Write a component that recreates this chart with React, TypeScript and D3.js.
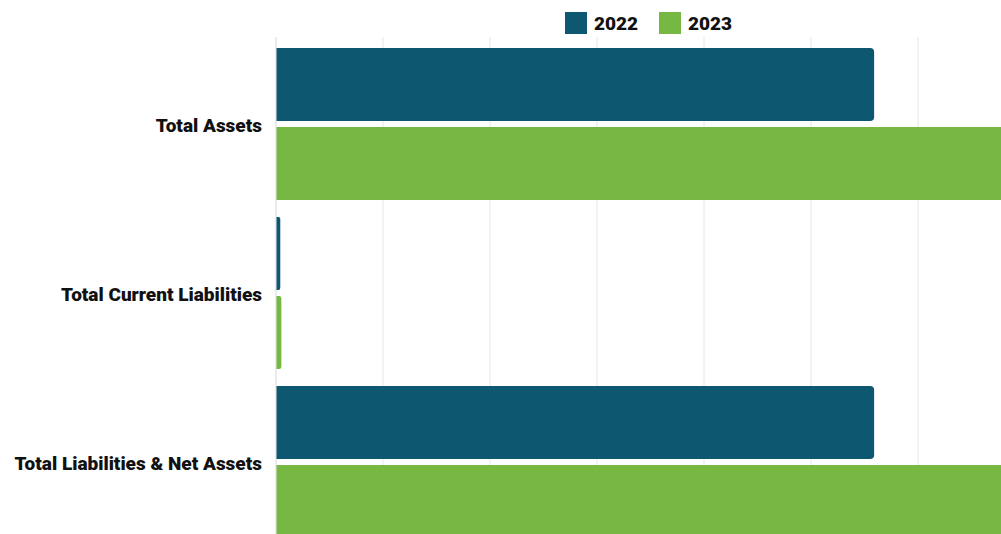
import { useEffect, useRef } from "react";
import * as d3 from "d3";

const categories = ["Total Assets", "Total Current Liabilities", "Total Liabilities & Net Assets"];
const years = ["2022", "2023"];
const values2022 = [5.59, 0.04, 5.59];
const values2023 = [7.2, 0.05, 7.2];
const gridTicks = [0, 1, 2, 3, 4, 5, 6, 7];
const colors = ["#0e5770", "#77b843"];

const W = 1001;
const H = 534;

export default function App() {
  const ref = useRef<SVGSVGElement>(null);

  useEffect(() => {
    if (!ref.current) return;
    const svg = d3.select(ref.current);
    svg.selectAll("*").remove();

    const left = 276;
    const x = d3.scaleLinear().domain([0, 7]).range([left, left + 7 * 107]);
    const y = d3
      .scaleBand()
      .domain(categories)
      .range([39.5, 39.5 + 3 * 169])
      .paddingInner(0.1)
      .paddingOuter(0.05);
    const sub = d3.scaleBand().domain(years).range([0, y.bandwidth()]).paddingInner(0.076);

    // grid
    svg
      .append("g")
      .selectAll("line")
      .data(gridTicks)
      .enter()
      .append("line")
      .attr("x1", (d) => x(d))
      .attr("x2", (d) => x(d))
      .attr("y1", 37)
      .attr("y2", H)
      .attr("stroke", (d) => (d === 0 ? "#d6d6d6" : "#e6e6e6"))
      .attr("stroke-width", 1);

    const rounded = (x0: number, x1: number, y0: number, h: number) => {
      const w = Math.max(x1 - x0, 0);
      const r = Math.min(4, w / 2, h / 2);
      return `M${x0},${y0}H${x1 - r}Q${x1},${y0} ${x1},${y0 + r}V${y0 + h - r}Q${x1},${y0 + h} ${x1 - r},${y0 + h}H${x0}Z`;
    };

    const series = [values2022, values2023];
    series.forEach((vals, si) => {
      svg
        .append("g")
        .selectAll("path")
        .data(categories)
        .enter()
        .append("path")
        .attr("d", (c, i) =>
          rounded(x(0) + 0.5, x(vals[i]), (y(c) ?? 0) + (sub(years[si]) ?? 0), sub.bandwidth())
        )
        .attr("fill", colors[si]);
    });

    // category labels
    svg
      .append("g")
      .selectAll("text")
      .data(categories)
      .enter()
      .append("text")
      .attr("x", 262)
      .attr("y", (c) => (y(c) ?? 0) + y.bandwidth() / 2 + 1)
      .attr("dy", "0.35em")
      .attr("text-anchor", "end")
      .style("font-family", "Roboto")
      .style("font-weight", "900")
      .style("font-size", "19px")
      .style("fill", "#111")
      .text((c) => c);

    // legend
    const legend = svg.append("g");
    const items = [
      { label: years[0], sx: 565, tx: 594 },
      { label: years[1], sx: 659, tx: 688 },
    ];
    items.forEach((it, i) => {
      legend
        .append("rect")
        .attr("x", it.sx)
        .attr("y", 12)
        .attr("width", 22)
        .attr("height", 22)
        .attr("fill", colors[i]);
      legend
        .append("text")
        .attr("x", it.tx)
        .attr("y", 23)
        .attr("dy", "0.35em")
        .style("font-family", "Roboto")
        .style("font-weight", "900")
        .style("font-size", "19px")
        .style("fill", "#111")
        .text(it.label);
    });
  }, []);

  return (
    <div style={{ position: "fixed", left: 0, top: 0, width: W, height: H, overflow: "hidden", background: "#fff" }}>
      <svg ref={ref} width={W} height={H} style={{ display: "block" }} />
    </div>
  );
}
